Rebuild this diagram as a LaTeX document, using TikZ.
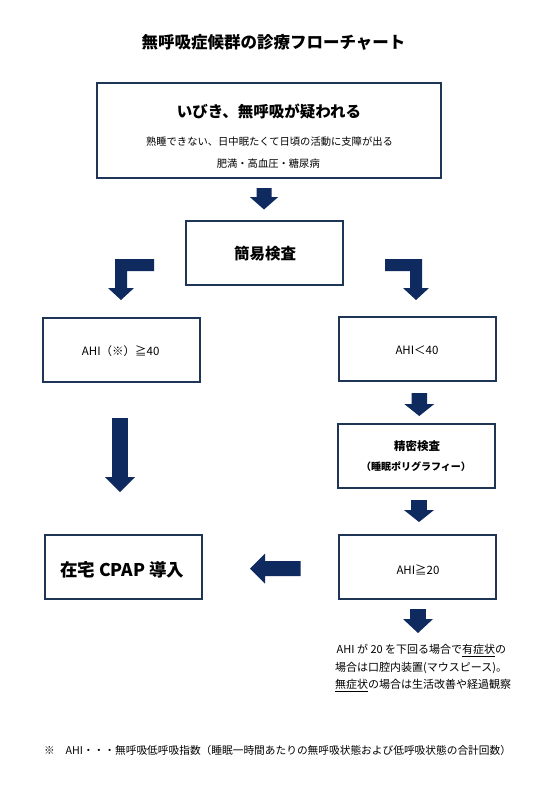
\documentclass[tikz,border=0pt]{standalone}
\usepackage{fontspec}
\setmainfont{Noto Sans CJK JP}
\definecolor{boxcol}{HTML}{1F3556}
\definecolor{arrowcol}{HTML}{0F2A5E}
\newcommand\myDownArrow[6]{%
  \fill[arrowcol] (#1-#5,#2) -- (#1+#5,#2) -- (#1+#5,#3) -- (#1+#6,#3) -- (#1,#4) -- (#1-#6,#3) -- (#1-#5,#3) -- cycle;}
\newcommand\fs[1]{\fontsize{#1}{#1}\selectfont}
\begin{document}
\begin{tikzpicture}[x=1pt,y=-1pt,
  box/.style={draw=boxcol, line width=2pt, fill=white, inner sep=0pt},
  smallbox/.style={box, minimum width=157pt, minimum height=64pt},
  txt/.style={inner sep=0pt, text=black},
  notetxt/.style={txt, anchor=west, font=\fs{11}}]
\useasboundingbox (0,0) rectangle (553,797);
\fill[white] (0,0) rectangle (553,797);

% title
\node[txt, font=\fs{16.5}\bfseries] (title) at (273.5,42) {無呼吸症候群の診療フローチャート};

% boxes
\node[box, minimum width=344pt, minimum height=95pt] (top) at (269,130.5) {};
\node[smallbox] (simple) at (264.5,253) {};
\node[smallbox] (ahiL) at (121.2,349.7) {};
\node[smallbox] (ahiR) at (417,349.2) {};
\node[smallbox] (psg) at (416.5,456.3) {};
\node[smallbox] (cpap) at (123.3,567) {};
\node[smallbox] (ahi20) at (417,567) {};

% texts in boxes
\node[txt, font=\fs{15.5}\bfseries] (head) at (269,111.7) {いびき、無呼吸が疑われる};
\node[txt, font=\fs{10.3}] (sub1) at (269.5,141.7) {熟睡できない、日中眠たくて日頃の活動に支障が出る};
\node[txt, font=\fs{10.3}] (sub2) at (268.3,163.3) {肥満・高血圧・糖尿病};
\node[txt, font=\fs{15.5}\bfseries] (simpletxt) at (265,254) {簡易検査};
\node[txt, font=\fs{11.5}] (ahiLtxt) at (120.7,350.7) {AHI（※）≧40};
\node[txt, font=\fs{11.5}] (ahiRtxt) at (417,350) {AHI＜40};
\node[txt, font=\fs{11.5}\bfseries] (psg1) at (417,446) {精密検査};
\node[txt, font=\fs{10}\bfseries] (psg2) at (416,466.7) {（睡眠ポリグラフィー）};
\node[txt, font=\fs{17.5}\bfseries] (cpaptxt) at (122.3,570) {在宅 CPAP 導入};
\node[txt, font=\fs{11.5}] (ahi20txt) at (418,570) {AHI≧20};

% note
\node[notetxt] (note1) at (336.5,650.7) {AHI が 20 を下回る場合で\underline{有症状}の};
\node[notetxt] (note2) at (335,668.3) {場合は口腔内装置(マウスピース)。};
\node[notetxt] (note3) at (335,685.7) {\underline{無症状}の場合は生活改善や経過観察};

% footnote
\node[txt, anchor=west, font=\fs{10.7}] (foot) at (44,750.7) {※\hspace{1em}AHI・・・無呼吸低呼吸指数（睡眠一時間あたりの無呼吸状態および低呼吸状態の合計回数）};

% block arrows
\myDownArrow{264}{188}{197}{209.5}{7.5}{14.2}
\myDownArrow{419.3}{393}{404}{416}{7.8}{15}
\myDownArrow{419}{500}{510}{522}{7.8}{15}
\myDownArrow{418}{609}{619}{633}{7.8}{15}
\myDownArrow{120}{418}{477}{492}{7.8}{15}
% elbow arrows
\fill[arrowcol] (154,259) -- (154,271) -- (127,271) -- (127,288) -- (134,288) -- (121,300) -- (108,288) -- (115,288) -- (115,259) -- cycle;
\fill[arrowcol] (385,259) -- (422,259) -- (422,288) -- (429,288) -- (416,300) -- (403,288) -- (410,288) -- (410,271) -- (385,271) -- cycle;
% left arrow
\fill[arrowcol] (300.7,561) -- (300.7,576) -- (265,576) -- (265,583.5) -- (250,568.5) -- (265,553.5) -- (265,561) -- cycle;
\end{tikzpicture}
\end{document}
